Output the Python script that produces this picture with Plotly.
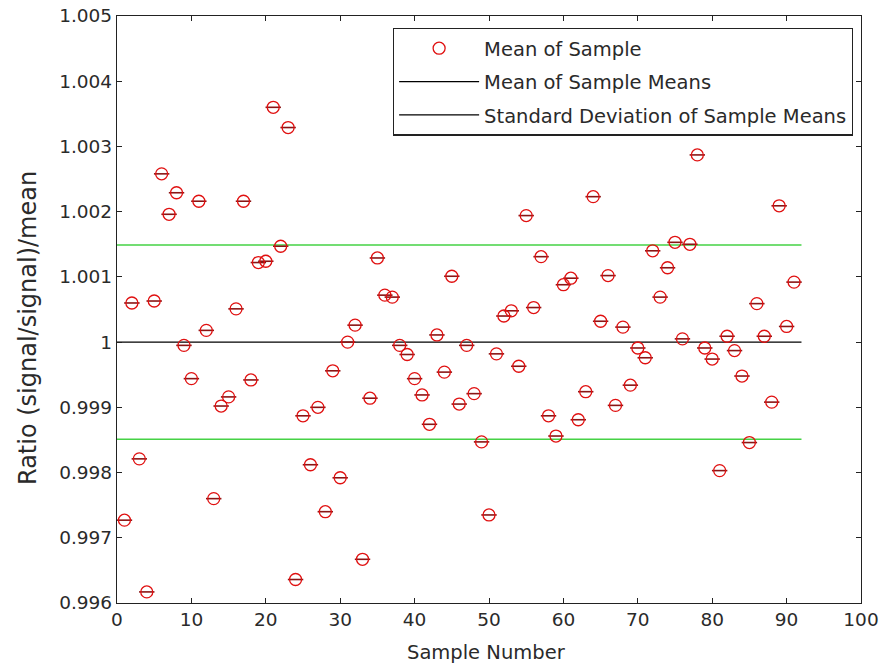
import plotly.graph_objects as go

sample_number = list(range(1, 92))
sample_mean = [
    0.99727, 1.00060, 0.99821, 0.99617, 1.00063, 1.00258, 1.00196, 1.00229, 0.99995, 0.99944,
    1.00216, 1.00018, 0.99760, 0.99902, 0.99916, 1.00051, 1.00216, 0.99942, 1.00122, 1.00124,
    1.00360, 1.00147, 1.00329, 0.99636, 0.99887, 0.99812, 0.99900, 0.99740, 0.99956, 0.99792,
    1.00000, 1.00026, 0.99667, 0.99914, 1.00129, 1.00072, 1.00069, 0.99995, 0.99981, 0.99944,
    0.99919, 0.99874, 1.00011, 0.99954, 1.00101, 0.99905, 0.99995, 0.99921, 0.99847, 0.99735,
    0.99982, 1.00040, 1.00048, 0.99963, 1.00194, 1.00053, 1.00131, 0.99887, 0.99856, 1.00088,
    1.00098, 0.99881, 0.99924, 1.00223, 1.00032, 1.00102, 0.99903, 1.00023, 0.99934, 0.99991,
    0.99976, 1.00140, 1.00069, 1.00114, 1.00153, 1.00005, 1.00150, 1.00287, 0.99991, 0.99974,
    0.99803, 1.00009, 0.99987, 0.99948, 0.99846, 1.00059, 1.00009, 0.99908, 1.00209, 1.00024,
    1.00092,
]
line_x = [0, 92]
mean_of_means = 1.0
std_of_means = 0.00149

x_ticks = [0, 10, 20, 30, 40, 50, 60, 70, 80, 90, 100]
y_ticks = [0.996, 0.997, 0.998, 0.999, 1.0, 1.001, 1.002, 1.003, 1.004, 1.005]
y_tick_text = ["0.996", "0.997", "0.998", "0.999", "1", "1.001", "1.002", "1.003", "1.004", "1.005"]

FONT = "DejaVu Sans"
TXT = "#2a2a2a"
RED = "#e01010"

fig = go.Figure()

# green std lines (not in legend)
fig.add_trace(go.Scatter(x=line_x, y=[mean_of_means + std_of_means] * 2, mode="lines",
                         line=dict(color="#45d245", width=1.6), showlegend=False, hoverinfo="skip"))
fig.add_trace(go.Scatter(x=line_x, y=[mean_of_means - std_of_means] * 2, mode="lines",
                         line=dict(color="#45d245", width=1.6), showlegend=False, hoverinfo="skip"))
# mean line
fig.add_trace(go.Scatter(x=line_x, y=[mean_of_means] * 2, mode="lines",
                         line=dict(color="black", width=1.3), showlegend=False, hoverinfo="skip"))

# bar through each circle
fig.add_trace(go.Scatter(x=sample_number, y=sample_mean, mode="markers",
                         marker=dict(symbol="line-ew-open", size=11, color="#8a1515",
                                     line=dict(color="#8a1515", width=1.6)),
                         showlegend=False, hoverinfo="skip"))
# circles
fig.add_trace(go.Scatter(x=sample_number, y=sample_mean, mode="markers", name="Mean of Sample",
                         legendgroup="a",
                         marker=dict(symbol="circle-open", size=12, color=RED,
                                     line=dict(color=RED, width=1.3))))
# legend-only entries
fig.add_trace(go.Scatter(x=[None], y=[None], mode="lines", name="Mean of Sample Means",
                         legendgroup="b", line=dict(color="black", width=1.3)))
fig.add_trace(go.Scatter(x=[None], y=[None], mode="lines", name="Standard Deviation of Sample Means",
                         legendgroup="c", line=dict(color="black", width=1.3)))

axis_common = dict(
    showline=True, linecolor="#222", linewidth=1.3, mirror="ticks",
    ticks="inside", ticklen=5, tickcolor="#222", tickwidth=1.3,
    showgrid=False, zeroline=False, automargin=False,
    tickfont=dict(family=FONT, size=18.5, color=TXT),
)

fig.update_layout(
    width=891, height=664,
    margin=dict(l=117, r=30, t=16, b=61),
    paper_bgcolor="white", plot_bgcolor="white",
    font=dict(family=FONT, color=TXT),
    xaxis=dict(range=[0, 100], tickvals=x_ticks, **axis_common),
    yaxis=dict(range=[0.996, 1.005], tickvals=y_ticks, ticktext=y_tick_text,
               **axis_common),
    legend=dict(x=0.989, y=0.98, xanchor="right", yanchor="top",
                bgcolor="white", bordercolor="#222", borderwidth=1.3,
                font=dict(family=FONT, size=19.5, color=TXT), traceorder="grouped",
                tracegroupgap=5, itemwidth=80),
    annotations=[
        dict(text="Ratio (signal/signal)/mean", textangle=-90,
             xref="paper", yref="paper", x=-0.1196, y=0.4685,
             xanchor="center", yanchor="middle", showarrow=False,
             font=dict(family=FONT, size=24, color=TXT)),
        dict(text="Sample Number",
             xref="paper", yref="paper", x=0.496, y=-0.0835,
             xanchor="center", yanchor="middle", showarrow=False,
             font=dict(family=FONT, size=19.5, color=TXT)),
    ],
)

fig.write_html("out.html")
